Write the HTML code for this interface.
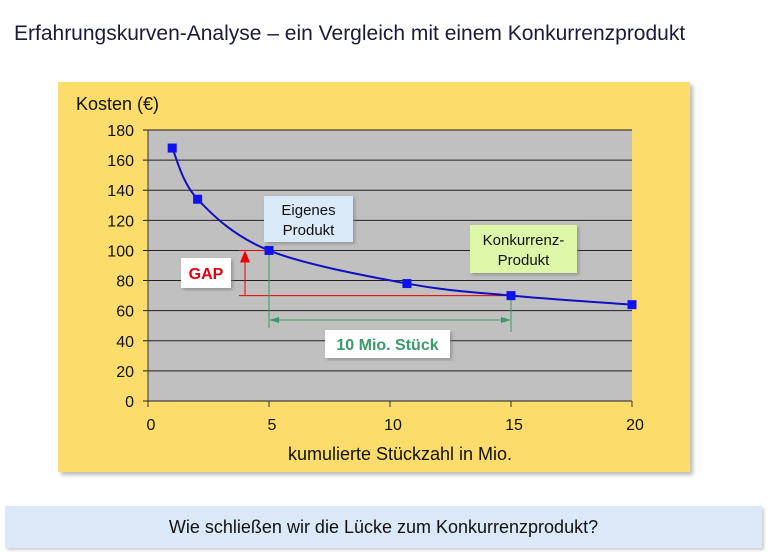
<!DOCTYPE html>
<html><head><meta charset="utf-8"><style>
body{margin:0;width:768px;height:552px;background:#fff;font-family:"Liberation Sans",sans-serif;position:relative;overflow:hidden}
.t{position:absolute}
</style></head><body>
<div class="t" style="left:14px;top:22px;font-size:21px;color:#1a1a3a">Erfahrungskurven-Analyse – ein Vergleich mit einem Konkurrenzprodukt</div>
<div style="position:absolute;left:58px;top:82px;width:632px;height:390px;background:#fcdc6a;box-shadow:3px 3px 4px #bbb"></div>
<svg id="c" width="768" height="552" style="position:absolute;left:0;top:0" font-family="Liberation Sans, sans-serif">
<defs>
<marker id="ar" markerUnits="userSpaceOnUse" markerWidth="10" markerHeight="12" refX="5" refY="1" orient="0"><path d="M0,12 L5,0 L10,12z" fill="#e00"/></marker>
<marker id="ag" markerWidth="10" markerHeight="8" refX="9" refY="4" orient="auto-start-reverse"><path d="M0,1 L10,4 L0,7z" fill="#3a9a6a"/></marker>
<filter id="sh"><feDropShadow dx="2" dy="2" stdDeviation="1.5" flood-color="#777" flood-opacity="0.6"/></filter>
</defs>
</svg>
<div class="t" style="left:5px;top:506px;width:757px;height:42px;background:#dae8f8;box-shadow:2px 2px 3px #ccc;font-size:18px;color:#111;text-align:center;line-height:42px">Wie schließen wir die Lücke zum Konkurrenzprodukt?</div>
<script>
const xs=[1,2.05,5,10.7,15,20];
const ys=[168,134,100,78,70,64];
const yTicks=[0,20,40,60,80,100,120,140,160,180];
const xTicks=[0,5,10,15,20];
const own=[5,100], comp=[15,70];
const X=v=>148+v*24.2, Y=v=>401-v*1.5056;
const s=document.getElementById('c'),NS='http://www.w3.org/2000/svg';
function el(t,a,txt){const e=document.createElementNS(NS,t);for(const k in a)e.setAttribute(k,a[k]);if(txt!=null)e.textContent=txt;s.appendChild(e);return e;}
let e=el('rect',{x:X(0),y:Y(180),width:X(20)-X(0),height:Y(0)-Y(180),fill:'#c0c0c0'});

yTicks.forEach(v=>{
 e=el('line',{x1:X(0)-5,x2:X(20),y1:Y(v),y2:Y(v),stroke:'#222','stroke-width':1});
 
 e=el('text',{x:X(0)-14,y:Y(v)+6,'text-anchor':'end','font-size':16,fill:'#111'},v);
 
});
e=el('line',{x1:X(0),x2:X(0),y1:Y(180),y2:Y(0)+5,stroke:'#333'});

xTicks.forEach(v=>{
 e=el('line',{x1:X(v),x2:X(v),y1:Y(0),y2:Y(0)+6,stroke:'#333'});
 
 e=el('text',{x:X(v)+3,y:Y(0)+29,'text-anchor':'middle','font-size':16,fill:'#111'},v);
 
});
e=el('text',{x:76,y:110,'font-size':18,fill:'#111'},'Kosten (€)');

e=el('text',{x:400,y:460,'text-anchor':'middle','font-size':18,fill:'#111'},'kumulierte Stückzahl in Mio.');

e=el('line',{x1:X(own[0])-30,x2:X(own[0]),y1:Y(own[1]),y2:Y(own[1]),stroke:'#e00'});

e=el('line',{x1:X(own[0])-30,x2:X(comp[0]),y1:Y(comp[1]),y2:Y(comp[1]),stroke:'#e00'});

e=el('line',{x1:X(own[0])-24,x2:X(own[0])-24,y1:Y(comp[1]),y2:Y(own[1])+1,stroke:'#e00','marker-end':'url(#ar)'});

e=el('line',{x1:X(own[0]),x2:X(own[0]),y1:Y(own[1]),y2:328,stroke:'#3a9a6a'});

e=el('line',{x1:X(comp[0]),x2:X(comp[0]),y1:Y(comp[1]),y2:332,stroke:'#3a9a6a'});

e=el('line',{x1:X(own[0])+1,x2:X(comp[0])-1,y1:320,y2:320,stroke:'#3a9a6a','marker-start':'url(#ag)','marker-end':'url(#ag)'});

const P=xs.map((x,i)=>[X(x),Y(ys[i])]);
let d='M'+P[0];
for(let i=0;i<P.length-1;i++){const p0=P[i-1]||P[i],p1=P[i],p2=P[i+1],p3=P[i+2]||P[i+1];
 d+=` C${p1[0]+(p2[0]-p0[0])/6},${p1[1]+(p2[1]-p0[1])/6} ${p2[0]-(p3[0]-p1[0])/6},${p2[1]-(p3[1]-p1[1])/6} ${p2[0]},${p2[1]}`;}
e=el('path',{d:d,fill:'none',stroke:'#1010c0','stroke-width':2});

P.forEach(p=>{e=el('rect',{x:p[0]-4.5,y:p[1]-4.5,width:9,height:9,fill:'#1010f0'});
 });
function box(name,x,y,w,h,fill,lines,color,bold,fs){
 e=el('rect',{x:x,y:y,width:w,height:h,fill:fill,filter:'url(#sh)'});
 
 lines.forEach((l,i)=>{e=el('text',{x:x+w/2,y:y+h/2+6+(i-(lines.length-1)/2)*20,'text-anchor':'middle','font-size':fs,fill:color,'font-weight':bold?'bold':'normal'},l);
  });
}
box('own-product-label',264,196,89,46,'#daeaf8',['Eigenes','Produkt'],'#111',false,15);
box('competitor-label',470,225,107,48,'#ddf6a8',['Konkurrenz-','Produkt'],'#111',false,15);
box('gap-label',181,258,50,30,'#fff',['GAP'],'#e00010',true,16);
box('volume-label',325,330,125,28,'#fff',['10 Mio. Stück'],'#3a9a6a',true,16);
</script>
</body></html>
